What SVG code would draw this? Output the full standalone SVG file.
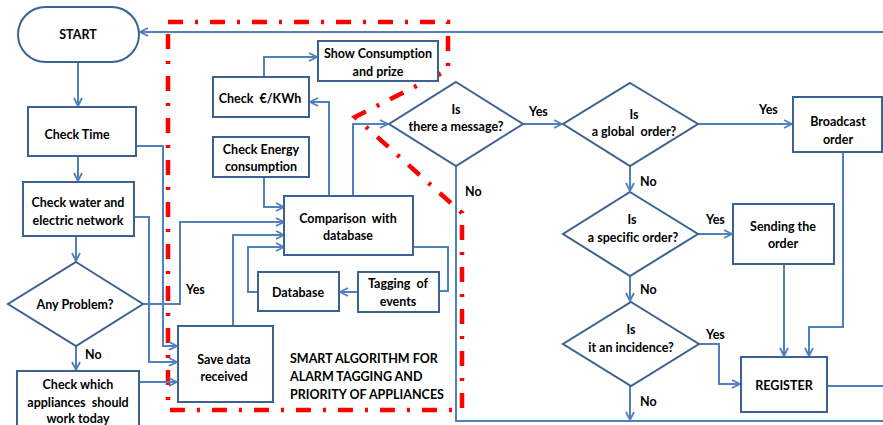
<svg xmlns="http://www.w3.org/2000/svg" width="883" height="425" viewBox="0 0 883 425">
  <style>
    .box { fill: #ffffff; stroke: #3B6292; stroke-width: 2; }
    .con { fill: none; stroke: #4F81BD; stroke-width: 2; }
    .zone { fill: none; stroke: #FF0000; stroke-width: 4.5; stroke-dasharray: 15 12 3 12; }
    text { font-family: Lato, "Liberation Sans", Arial, sans-serif; font-weight: bold; font-size: 12.5px; fill: #000000; text-anchor: middle; dominant-baseline: central; font-variant-ligatures: none; white-space: pre; }
    .lbl { text-anchor: start; }
  </style>
  <defs>
    <marker id="arr" viewBox="0 0 10 10" refX="9" refY="5" markerWidth="10" markerHeight="10" markerUnits="userSpaceOnUse" orient="auto">
      <path d="M1,1 L9,5 L1,9" fill="none" stroke="#4F81BD" stroke-width="1.8"/>
    </marker>
  </defs>
  <rect width="883" height="425" fill="#ffffff"/>

  <!-- boundary of the smart algorithm block -->
  <path class="zone" d="M168,22 L448,22 L448,70 L355,117 L462,213 L462,410 L168,410 Z"/>

  <!-- connectors -->
  <g id="connectors">
    <path class="con" marker-end="url(#arr)" d="M883,32 L140,32"/>
    <path class="con" marker-end="url(#arr)" d="M78,62 L78,106"/>
    <path class="con" marker-end="url(#arr)" d="M78,157 L78,181"/>
    <path class="con" marker-end="url(#arr)" d="M76,237 L76,261"/>
    <path class="con" marker-end="url(#arr)" d="M76,346 L76,370"/>
    <path class="con" marker-end="url(#arr)" d="M137,146 L163,146 L163,346 L177,346"/>
    <path class="con" marker-end="url(#arr)" d="M134,217 L149,217 L149,362 L177,362"/>
    <path class="con" marker-end="url(#arr)" d="M139,382 L177,382"/>
    <path class="con" marker-end="url(#arr)" d="M143,304 L180,304 L180,222 L284,222"/>
    <path class="con" marker-end="url(#arr)" d="M233,326 L233,235 L284,235"/>
    <path class="con" marker-end="url(#arr)" d="M258,292 L248,292 L248,247 L284,247"/>
    <path class="con" marker-end="url(#arr)" d="M264,177 L264,207 L284,207"/>
    <path class="con" marker-end="url(#arr)" d="M329,196 L329,102 L310,102"/>
    <path class="con" marker-end="url(#arr)" d="M264,77 L264,57 L317,57"/>
    <path class="con" marker-end="url(#arr)" d="M353,196 L353,124 L388,124"/>
    <path class="con" d="M413,247 L448,247 L448,291 L439,291"/>
    <path class="con" marker-end="url(#arr)" d="M358,292 L340,292"/>
    <path class="con" marker-end="url(#arr)" d="M523,124 L562,124"/>
    <path class="con" d="M456,166 L456,421 L883,421"/>
    <path class="con" marker-end="url(#arr)" d="M698,124 L792,124"/>
    <path class="con" marker-end="url(#arr)" d="M630,166 L630,191"/>
    <path class="con" marker-end="url(#arr)" d="M698,234 L732,234"/>
    <path class="con" marker-end="url(#arr)" d="M630,276 L630,301"/>
    <path class="con" marker-end="url(#arr)" d="M699,344 L719,344 L719,384 L740,384"/>
    <path class="con" marker-end="url(#arr)" d="M630,386 L630,420"/>
    <path class="con" marker-end="url(#arr)" d="M784,264 L784,356"/>
    <path class="con" marker-end="url(#arr)" d="M843,152 L843,327 L809,327 L809,356"/>
    <path class="con" d="M827,386 L883,386"/>
  </g>

  <!-- edge labels -->
  <g id="edge-labels">
    <text class="lbl" x="186" y="289">Yes</text>
    <text class="lbl" x="85" y="354">No</text>
    <text class="lbl" x="529" y="111">Yes</text>
    <text class="lbl" x="465" y="191">No</text>
    <text class="lbl" x="759" y="109">Yes</text>
    <text class="lbl" x="640" y="181">No</text>
    <text class="lbl" x="706" y="219">Yes</text>
    <text class="lbl" x="640" y="289">No</text>
    <text class="lbl" x="706" y="334">Yes</text>
    <text class="lbl" x="640" y="401">No</text>
  </g>

  <!-- nodes -->
  <g id="start">
    <rect class="box" x="18" y="7" width="121" height="55" rx="27.5"/>
    <text x="78" y="34">START</text>
  </g>
  <g id="check-time">
    <rect class="box" x="28" y="107" width="108" height="49"/>
    <text x="77" y="134">Check Time</text>
  </g>
  <g id="check-network">
    <rect class="box" x="23" y="182" width="111" height="54"/>
    <text x="78" y="202">Check water and</text>
    <text x="78" y="220">electric network</text>
  </g>
  <g id="any-problem">
    <polygon class="box" points="76,262 143,304 76,346 8,304"/>
    <text x="75" y="304">Any Problem?</text>
  </g>
  <g id="check-appliances">
    <rect class="box" x="17" y="371" width="122" height="60"/>
    <text x="78" y="384">Check which</text>
    <text x="78" y="402">appliances  should</text>
    <text x="78" y="418">work today</text>
  </g>
  <g id="save-data">
    <rect class="box" x="178" y="326" width="95" height="76"/>
    <text x="224" y="359">Save data</text>
    <text x="224" y="376">received</text>
  </g>
  <g id="algorithm-title">
    <text class="lbl" x="290" y="358">SMART ALGORITHM FOR</text>
    <text class="lbl" x="290" y="376">ALARM TAGGING AND</text>
    <text class="lbl" x="290" y="394">PRIORITY OF APPLIANCES</text>
  </g>
  <g id="database">
    <rect class="box" x="258" y="272" width="81" height="39"/>
    <text x="298" y="292">Database</text>
  </g>
  <g id="tagging">
    <rect class="box" x="358" y="272" width="81" height="40"/>
    <text x="398" y="283">Tagging  of</text>
    <text x="398" y="301">events</text>
  </g>
  <g id="comparison">
    <rect class="box" x="284" y="196" width="129" height="59"/>
    <text x="348" y="218">Comparison  with</text>
    <text x="348" y="235">database</text>
  </g>
  <g id="check-energy">
    <rect class="box" x="213" y="137" width="96" height="40"/>
    <text x="261" y="149">Check Energy</text>
    <text x="261" y="166">consumption</text>
  </g>
  <g id="check-price">
    <rect class="box" x="213" y="77" width="96" height="40"/>
    <text x="260" y="98">Check  €/KWh</text>
  </g>
  <g id="show-consumption">
    <rect class="box" x="318" y="41" width="120" height="40"/>
    <text x="378" y="53">Show Consumption</text>
    <text x="378" y="71">and prize</text>
  </g>
  <g id="message">
    <polygon class="box" points="456,82 523,124 456,166 389,124"/>
    <text x="456" y="109">Is</text>
    <text x="456" y="126">there a message?</text>
  </g>
  <g id="global-order">
    <polygon class="box" points="630,83 698,124 630,166 563,124"/>
    <text x="634" y="114">Is</text>
    <text x="634" y="131">a global  order?</text>
  </g>
  <g id="broadcast">
    <rect class="box" x="793" y="97" width="89" height="55"/>
    <text x="838" y="121">Broadcast</text>
    <text x="838" y="139">order</text>
  </g>
  <g id="specific-order">
    <polygon class="box" points="630,192 698,234 630,276 563,234"/>
    <text x="632" y="219">Is</text>
    <text x="633" y="237">a specific order?</text>
  </g>
  <g id="sending">
    <rect class="box" x="733" y="204" width="101" height="60"/>
    <text x="783" y="226">Sending the</text>
    <text x="783" y="243">order</text>
  </g>
  <g id="incidence">
    <polygon class="box" points="631,302 699,344 631,386 563,344"/>
    <text x="631" y="329">Is</text>
    <text x="631" y="347">it an incidence?</text>
  </g>
  <g id="register">
    <rect class="box" x="741" y="357" width="86" height="55"/>
    <text x="784" y="385">REGISTER</text>
  </g>
</svg>
